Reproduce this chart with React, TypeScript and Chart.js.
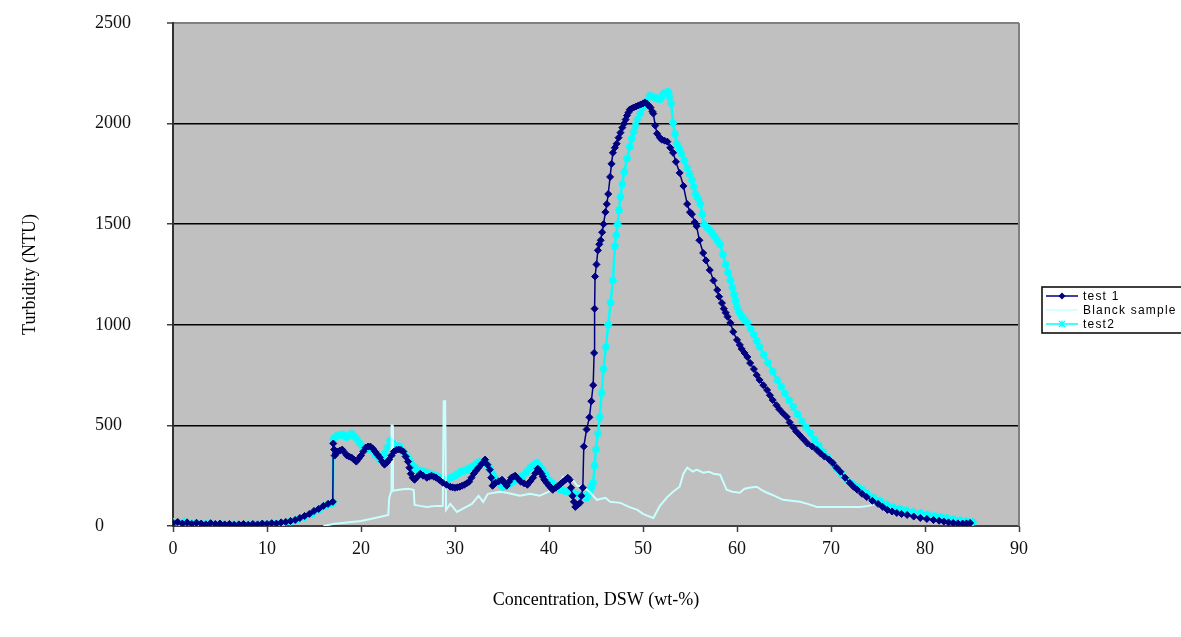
import React, { useEffect, useRef } from "react";
import { Chart, registerables } from "chart.js";

Chart.register(...registerables);

// ---------------- data ----------------
const xTickValues = [0, 10, 20, 30, 40, 50, 60, 70, 80, 90];
const yTickValues = [0, 500, 1000, 1500, 2000, 2500];

const xAxisTitle = "Concentration, DSW (wt-%)";
const yAxisTitle = "Turbidity (NTU)";
const seriesNames = ["test 1", "Blanck sample", "test2"];

const test1X = [
  0, 0.5, 1, 1.5, 2, 2.5, 3, 3.5, 4, 4.5, 5, 5.5, 6, 6.5, 7, 7.5, 8, 8.5, 9, 9.5,
  10, 10.5, 11, 11.5, 12, 12.5, 13, 13.5, 14, 14.5, 15, 15.5, 16, 16.5, 17,
  17.05, 17.15, 17.2, 17.35, 17.5, 17.75, 18, 18.25, 18.5, 18.75,
  19, 19.25, 19.5, 19.75, 20, 20.25, 20.5, 20.75, 21, 21.25,
  21.5, 21.75, 22, 22.25, 22.5, 22.75, 23, 23.25, 23.5, 23.75,
  24, 24.25, 24.5, 24.75, 25, 25.15, 25.3, 25.5, 25.7, 26,
  26.3, 26.6, 27, 27.25, 27.5, 27.75, 28, 28.35, 28.7, 29.1,
  29.5, 29.75, 30, 30.25, 30.5, 30.75, 31, 31.25, 31.5, 31.75,
  32, 32.25, 32.5, 32.85, 33.2, 33.45, 33.7, 33.85, 34, 34.15,
  34.3, 34.65, 35, 35.25, 35.5, 35.75, 36, 36.2, 36.4, 36.7,
  37, 37.35, 37.7, 38, 38.3, 38.55, 38.8, 39, 39.2, 39.35,
  39.5, 39.75, 40, 40.2, 40.4, 40.7, 41, 41.25, 41.5, 41.75,
  42, 42.2, 42.35, 42.5, 42.65, 42.8, 43.05, 43.3, 43.45, 43.6,
  43.7, 44.0, 44.3, 44.5, 44.7, 44.8, 44.85, 44.9, 45.05, 45.2,
  45.35, 45.5, 45.65, 45.8, 46, 46.15, 46.3, 46.5, 46.65, 46.8,
  47, 47.2, 47.4, 47.6, 47.8, 48, 48.15, 48.3, 48.45, 48.6,
  48.8, 49, 49.25, 49.5, 49.75, 50, 50.2, 50.4, 50.6, 50.8,
  51, 51.1, 51.3, 51.5, 51.8, 52, 52.3, 52.6, 52.9, 53.2,
  53.5, 53.9, 54.3, 54.7, 55, 55.2, 55.5, 55.7, 56, 56.4,
  56.7, 57.1, 57.5, 57.9, 58.1, 58.4, 58.6, 58.8, 59, 59.3,
  59.6, 60, 60.3, 60.5, 60.8, 61.1, 61.4, 61.8, 62.1, 62.4,
  62.8, 63.2, 63.5, 63.8, 64.2, 64.5, 64.9, 65.3, 65.6, 66,
  66.3, 66.7, 67.1, 67.5, 68, 68.5, 68.9, 69.3, 69.8, 70.2,
  70.6, 71, 71.5, 72, 72.4, 72.8, 73.3, 73.8, 74.4, 75,
  75.5, 76, 76.5, 77, 77.5, 78.1, 78.8, 79.5, 80.2, 80.9,
  81.5, 82, 82.5, 83, 83.5, 84, 84.4, 84.8,
];
const test1Y = [
  15, 20, 12, 18, 10, 16, 12, 8, 14, 10, 12, 8, 10, 6, 8, 10, 6, 10, 8, 12,
  10, 14, 12, 18, 20, 25, 30, 40, 50, 60, 75, 85, 100, 110, 120,
  410, 380, 350, 360, 370, 375, 380, 365, 350, 345,
  340, 330, 320, 335, 350, 370, 390, 395, 395, 385,
  370, 355, 340, 320, 305, 315, 330, 350, 370, 378,
  380, 378, 370, 345, 320, 290, 260, 240, 230, 245,
  260, 250, 240, 245, 250, 245, 240, 228, 215, 205,
  195, 192, 190, 192, 195, 200, 205, 212, 220, 240,
  260, 275, 290, 310, 330, 305, 280, 240, 200, 208,
  215, 222, 230, 215, 200, 220, 240, 245, 250, 235,
  220, 212, 205, 222, 240, 262, 285, 272, 260, 245,
  230, 215, 200, 190, 180, 190, 200, 210, 220, 230,
  240, 230, 190, 150, 120, 95, 105, 115, 150, 190,
  395, 480, 540, 620, 700, 860, 1080, 1240, 1300, 1370,
  1400, 1420, 1460, 1500, 1560, 1600, 1650, 1735, 1800, 1855,
  1880, 1900, 1930, 1955, 1980, 2000, 2020, 2040, 2055, 2070,
  2075, 2080, 2085, 2090, 2095, 2100, 2105, 2100, 2090, 2080,
  2060, 2050, 1990, 1950, 1930, 1920, 1915, 1910, 1880, 1855,
  1810, 1755, 1690, 1600, 1560, 1550, 1510, 1490, 1420, 1357,
  1320, 1272, 1220, 1173, 1140, 1108, 1080, 1060, 1040, 1010,
  965, 925, 900, 880, 860, 840, 810, 780, 750, 726,
  700, 676, 650, 626, 600, 580, 560, 542, 515, 490,
  470, 450, 430, 410, 395, 378, 360, 345, 330, 313,
  290, 270, 240, 214, 195, 180, 160, 144, 125, 110,
  95, 80, 72, 65, 60, 55, 47, 40, 35, 30,
  26, 22, 18, 15, 13, 12, 13, 15,
];

const blankX = [
  16, 17, 18, 19, 20, 21, 22, 22.9, 23, 23.2, 23.25, 23.35, 23.4, 24, 25, 25.6, 25.7, 26.3, 27, 28, 28.7,
  28.8, 28.95, 29.05, 29.5, 30.2, 31, 31.8, 32.5, 33, 33.5, 34.8, 35.5, 36.9, 38, 39, 40.4,
  41, 41.5, 42, 42.5, 43, 43.6, 44.3, 45.1, 46, 46.5, 47.6, 48.5, 49.4, 50, 50.5, 51.1,
  51.8, 52.6, 53.2, 53.9, 54.3, 54.7, 55.3, 55.7, 56.4, 57, 57.5, 58.2, 58.9, 59.5, 60.3, 60.8,
  61.3, 62.1, 62.6, 63.2, 64, 64.9, 65.8, 66.7, 67.5, 68.5, 70, 71.5, 73.1, 74, 75.2,
];
const blankY = [
  0, 10, 15, 20, 25, 35, 45, 55, 140, 170, 500, 500, 175, 180, 185, 180, 105, 100, 95, 100, 100,
  620, 620, 80, 110, 70, 90, 110, 150, 120, 160, 170, 165, 150, 160, 150, 180,
  200, 245, 225, 230, 200, 195, 170, 130, 140, 120, 115, 95, 80, 60, 50, 40,
  100, 145, 170, 195, 260, 290, 270, 280, 265, 270, 260, 255, 180, 170, 165, 185,
  190, 195, 180, 165, 150, 130, 125, 120, 110, 95, 95, 95, 95, 100, 115,
];

const test2X = [
  0, 0.7, 1.3, 2, 2.8, 3.5, 4.2, 5, 5.8, 6.5, 7.2, 8, 8.8, 9.5, 10.2, 11, 11.8, 12.5, 13.2, 14,
  14.8, 15.5, 16.2, 16.8, 17,
  17.05, 17.25, 17.5, 17.75, 18, 18.25, 18.5, 18.75, 19, 19.3,
  19.6, 19.9, 20.2, 20.6, 21, 21.5, 22, 22.25, 22.5, 22.8,
  23.1, 23.35, 23.6, 23.85, 24.1, 24.5, 24.9, 25.2, 25.5, 25.75,
  26, 26.4, 26.8, 27.25, 27.7, 28.05, 28.4, 28.75, 29.1, 29.55,
  30, 30.3, 30.6, 30.95, 31.3, 31.65, 32, 32.3, 32.6, 33,
  33.4, 33.7, 34, 34.25, 34.5, 34.8, 35.1, 35.45, 35.8, 36.15,
  36.5, 36.85, 37.2, 37.6, 38, 38.35, 38.7, 39, 39.3, 39.65,
  40, 40.3, 40.6, 40.9, 41.2, 41.6, 42, 42.4, 42.8, 43.15,
  43.5, 43.75, 44, 44.2, 44.4, 44.55,
  44.7, 44.85, 45, 45.2, 45.4, 45.6, 45.8, 46.05, 46.3, 46.55,
  46.8, 47, 47.15, 47.3, 47.45, 47.6, 47.8, 48, 48.3, 48.6,
  48.8, 49, 49.2, 49.4, 49.7, 50, 50.35, 50.7, 50.95, 51.2,
  51.5, 51.8, 52, 52.2, 52.45, 52.7, 52.85, 53, 53.2, 53.4,
  53.6, 53.85, 54.1, 54.4, 54.7, 54.95, 55.2, 55.4, 55.6, 55.85,
  56.1, 56.3, 56.5, 56.8, 57.1, 57.35, 57.6, 57.9, 58.2, 58.5,
  58.8, 59.05, 59.3, 59.5, 59.7, 59.85, 60, 60.25, 60.5, 60.8,
  61.1, 61.45, 61.8, 62.1, 62.4, 62.85, 63.3, 63.8, 64.3, 64.7,
  65.1, 65.55, 66, 66.45, 66.9, 67.35, 67.8, 68.25, 68.7, 69.15,
  69.6, 70.1, 70.6, 71.15, 71.7, 72.25, 72.8, 73.3, 73.8, 74.5,
  75.2, 75.9, 76.6, 77.3, 78, 78.75, 79.5, 80.25, 81, 81.65,
  82.3, 83, 83.7, 84.4, 85.1,
];
const test2Y = [
  20, 15, 22, 14, 10, 12, 8, 10, 6, 8, 5, 8, 6, 10, 8, 12, 15, 22, 30, 45,
  60, 80, 100, 110, 115,
  430, 440, 450, 452, 455, 448, 440, 450, 460, 445,
  430, 410, 390, 385, 380, 355, 330, 345, 360, 390,
  425, 412, 400, 398, 395, 370, 345, 322, 300, 290,
  280, 275, 270, 262, 255, 248, 240, 235, 230, 240,
  250, 260, 270, 275, 280, 290, 300, 310, 320, 315,
  310, 285, 260, 240, 220, 207, 195, 202, 210, 220,
  230, 240, 250, 270, 290, 302, 315, 298, 280, 255,
  230, 215, 200, 190, 180, 175, 170, 165, 160, 155,
  150, 145, 140, 160, 180, 197,
  214, 300, 380, 460, 540, 660, 780, 890, 1000, 1110,
  1220, 1390, 1445, 1500, 1570, 1635, 1700, 1760, 1825, 1885,
  1925, 1960, 1990, 2020, 2050, 2080, 2110, 2140, 2135, 2130,
  2125, 2120, 2135, 2150, 2155, 2157, 2130, 2100, 2003, 1950,
  1900, 1875, 1850, 1815, 1780, 1750, 1720, 1685, 1650, 1625,
  1600, 1550, 1500, 1485, 1470, 1455, 1440, 1420, 1400, 1350,
  1300, 1260, 1223, 1185, 1150, 1120, 1088, 1064, 1040, 1025,
  1009, 980, 950, 920, 890, 850, 810, 768, 726, 693,
  660, 625, 591, 555, 520, 490, 462, 430, 400, 370,
  343, 313, 285, 255, 229, 210, 195, 180, 164, 143,
  125, 108, 94, 85, 78, 71, 65, 57, 50, 45,
  40, 34, 28, 24, 20,
];

// ---------------- helpers ----------------
const toPoints = (xs: number[], ys: number[]) => {
  const n = Math.min(xs.length, ys.length);
  const out: { x: number; y: number }[] = [];
  for (let i = 0; i < n; i++) out.push({ x: xs[i], y: ys[i] });
  return out;
};

const COLORS = {
  test1: "#000080",
  blank: "#c8ffff",
  test2: "#00ffff",
  plotBg: "#c0c0c0",
};

const decorPlugin = {
  id: "excelDecor",
  beforeDraw(chart: any) {
    const { ctx, chartArea: a } = chart;
    ctx.save();
    ctx.fillStyle = COLORS.plotBg;
    ctx.fillRect(a.left, a.top, a.right - a.left, a.bottom - a.top);
    ctx.restore();
  },
  afterDraw(chart: any) {
    const { ctx, chartArea: a } = chart;
    ctx.save();
    ctx.strokeStyle = "#808080";
    ctx.lineWidth = 2;
    ctx.beginPath();
    ctx.moveTo(a.right, a.top);
    ctx.lineTo(a.right, a.bottom);
    ctx.stroke();

    // axis titles
    ctx.fillStyle = "#000";
    ctx.font = '18px "Liberation Serif", "Times New Roman", serif';
    ctx.textAlign = "center";
    ctx.textBaseline = "middle";
    ctx.fillText(xAxisTitle, (a.left + a.right) / 2, 600);
    ctx.save();
    ctx.translate(30, (a.top + a.bottom) / 2);
    ctx.rotate(-Math.PI / 2);
    ctx.fillText(yAxisTitle, 0, 0);
    ctx.restore();

    // legend
    const lx = a.right + 23;
    const ly = 287;
    const lw = 170;
    const lh = 46;
    ctx.fillStyle = "#ffffff";
    ctx.fillRect(lx, ly, lw, lh);
    ctx.strokeStyle = "#000";
    ctx.lineWidth = 1.5;
    ctx.strokeRect(lx, ly, lw, lh);
    const rows = [
      { name: seriesNames[0], color: COLORS.test1, marker: "diamond" },
      { name: seriesNames[1], color: COLORS.blank, marker: "none" },
      { name: seriesNames[2], color: COLORS.test2, marker: "star" },
    ];
    ctx.font = '12px "Liberation Sans", Arial, sans-serif';
    ctx.textAlign = "left";
    ctx.textBaseline = "middle";
    try {
      (ctx as any).letterSpacing = "1.2px";
    } catch (e) {}
    rows.forEach((r, i) => {
      const y = ly + 9 + i * 14;
      ctx.strokeStyle = r.color;
      ctx.lineWidth = 1.5;
      ctx.beginPath();
      ctx.moveTo(lx + 4, y);
      ctx.lineTo(lx + 36, y);
      ctx.stroke();
      const mx = lx + 20;
      if (r.marker === "diamond") {
        ctx.fillStyle = r.color;
        ctx.beginPath();
        ctx.moveTo(mx, y - 3.5);
        ctx.lineTo(mx + 3.5, y);
        ctx.lineTo(mx, y + 3.5);
        ctx.lineTo(mx - 3.5, y);
        ctx.closePath();
        ctx.fill();
      } else if (r.marker === "star") {
        ctx.lineWidth = 1.2;
        ctx.beginPath();
        ctx.moveTo(mx - 3, y - 3);
        ctx.lineTo(mx + 3, y + 3);
        ctx.moveTo(mx + 3, y - 3);
        ctx.lineTo(mx - 3, y + 3);
        ctx.moveTo(mx, y - 3.5);
        ctx.lineTo(mx, y + 3.5);
        ctx.stroke();
      }
      ctx.fillStyle = "#000";
      ctx.fillText(r.name, lx + 41, y + 1);
    });
    ctx.restore();
  },
};

export default function App() {
  const canvasRef = useRef<HTMLCanvasElement | null>(null);

  useEffect(() => {
    if (!canvasRef.current) return;
    const tickFont = { family: '"Liberation Serif", "Times New Roman", serif', size: 18 };
    const chart = new Chart(canvasRef.current, {
      type: "scatter",
      data: {
        datasets: [
          {
            label: seriesNames[0],
            data: toPoints(test1X, test1Y),
            showLine: true,
            borderColor: COLORS.test1,
            backgroundColor: COLORS.test1,
            borderWidth: 1.5,
            pointStyle: "rectRot",
            pointRadius: 3.5,
            pointBorderWidth: 1,
            order: 0,
          },
          {
            label: seriesNames[1],
            data: toPoints(blankX, blankY),
            showLine: true,
            borderColor: COLORS.blank,
            backgroundColor: COLORS.blank,
            borderWidth: 2,
            pointRadius: 0,
            order: 1,
          },
          {
            label: seriesNames[2],
            data: toPoints(test2X, test2Y),
            showLine: true,
            borderColor: COLORS.test2,
            backgroundColor: COLORS.test2,
            borderWidth: 2.5,
            pointStyle: "star",
            pointRadius: 4,
            pointBorderWidth: 2,
            order: 2,
          },
        ],
      },
      options: {
        animation: false,
        responsive: true,
        maintainAspectRatio: false,
        layout: { padding: { left: 95, top: 23, right: 162, bottom: 0 } },
        plugins: {
          legend: { display: false },
          tooltip: { enabled: false },
          title: { display: false },
        },
        scales: {
          x: {
            type: "linear",
            min: 0,
            max: 90,
            afterBuildTicks: (scale: any) => {
              scale.ticks = xTickValues.map((v) => ({ value: v }));
            },
            afterFit: (scale: any) => {
              scale.height = 111;
            },
            grid: {
              display: true,
              drawOnChartArea: false,
              drawTicks: true,
              tickLength: 6,
              tickColor: "#404040",
              tickWidth: 1.5,
            },
            border: { display: true, color: "#404040", width: 2 },
            ticks: {
              color: "#111",
              font: tickFont,
              padding: 6,
              maxRotation: 0,
              autoSkip: false,
              callback: (v: any) => String(v),
            },
          },
          y: {
            type: "linear",
            min: 0,
            max: 2500,
            afterBuildTicks: (scale: any) => {
              scale.ticks = yTickValues.map((v) => ({ value: v }));
            },
            afterFit: (scale: any) => {
              scale.width = 78;
            },
            grid: {
              display: true,
              drawOnChartArea: true,
              drawTicks: true,
              tickLength: 6,
              color: (c: any) =>
                c.tick && c.tick.value === 2500
                  ? "#808080"
                  : c.tick && c.tick.value === 0
                  ? "rgba(0,0,0,0)"
                  : "#000000",
              lineWidth: (c: any) => (c.tick && c.tick.value === 2500 ? 2 : 1.5),
              tickColor: "#404040",
              tickWidth: 1.5,
            },
            border: { display: true, color: "#303030", width: 2 },
            ticks: {
              color: "#111",
              font: tickFont,
              crossAlign: "far",
              autoSkip: false,
              callback: (v: any) => String(v),
            },
          },
        },
      },
      plugins: [decorPlugin],
    });
    return () => chart.destroy();
  }, []);

  return (
    <div style={{ position: "absolute", left: 0, top: 0, width: 1181, height: 637, background: "#fff" }}>
      <canvas ref={canvasRef} />
    </div>
  );
}
